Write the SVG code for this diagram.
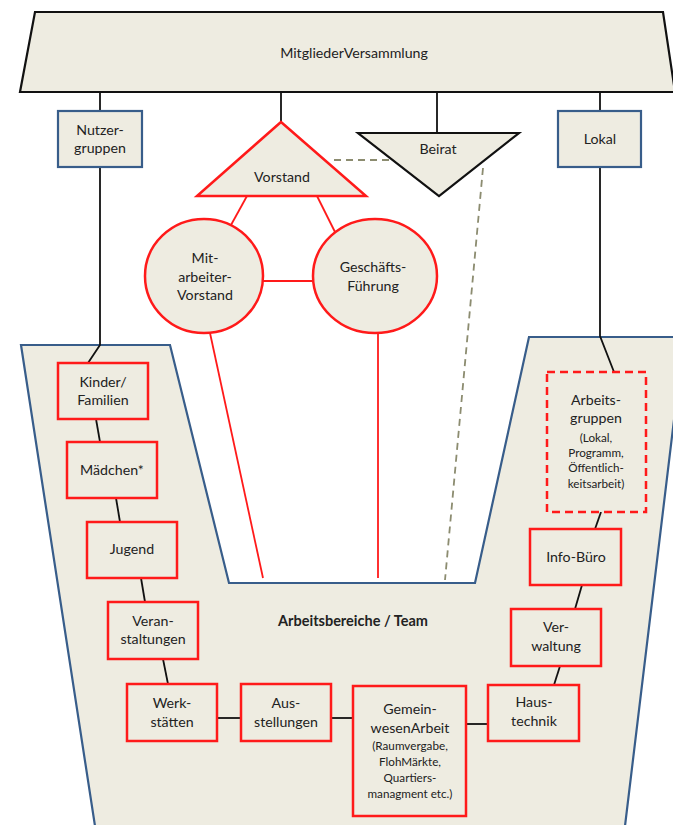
<svg xmlns="http://www.w3.org/2000/svg" width="673" height="825" viewBox="0 0 673 825">
<style>
text{font-family:Lato,"Open Sans","Liberation Sans",sans-serif;font-size:14.2px;fill:#222;text-anchor:middle}
.sm{font-size:11.7px}
.b{font-weight:bold;font-size:14.5px}
.blue{fill:#eeece1;stroke:#385d8a;stroke-width:2.2}
.red{fill:#eeece1;stroke:#ff1a1a;stroke-width:2.5}
.blk{fill:#eeece1;stroke:#111;stroke-width:2.2}
.ln{fill:none;stroke:#111;stroke-width:1.8}
.rl{fill:none;stroke:#ff1a1a;stroke-width:1.8}
.dl{fill:none;stroke:#8c8c70;stroke-width:1.8;stroke-dasharray:7,5}
</style>
<rect width="673" height="825" fill="#fff"/>
<g id="arbeitsbereiche">
<polygon class="blue" points="21,345 170,345 229,583 475,583 529,337 684,337 625,826 95,826"/>
<text class="b" x="353" y="626">Arbeitsbereiche / Team</text>
</g>
<g id="connectors">
<line class="ln" x1="100" y1="92" x2="100" y2="111"/>
<line class="ln" x1="281" y1="92" x2="281" y2="122"/>
<line class="ln" x1="437" y1="92" x2="437" y2="133"/>
<line class="ln" x1="600" y1="92" x2="600" y2="111"/>
<polyline class="ln" points="100,167 100,345 88,363"/>
<polyline class="ln" points="600,167 600,336 614,372"/>
<line class="ln" x1="96" y1="419" x2="100" y2="442"/>
<line class="ln" x1="116" y1="498" x2="120" y2="522"/>
<line class="ln" x1="141" y1="578" x2="145" y2="602"/>
<line class="ln" x1="163" y1="659" x2="168" y2="684"/>
<line class="ln" x1="217" y1="718" x2="241" y2="718"/>
<line class="ln" x1="331" y1="718" x2="353" y2="718"/>
<line class="ln" x1="466" y1="724" x2="488" y2="724"/>
<line class="ln" x1="554" y1="685" x2="560" y2="666"/>
<line class="ln" x1="575" y1="609" x2="582" y2="585"/>
<line class="ln" x1="595" y1="529" x2="601" y2="512"/>
<line class="rl" x1="247" y1="196" x2="231" y2="225"/>
<line class="rl" x1="317" y1="196" x2="335" y2="232"/>
<line class="rl" x1="263" y1="281" x2="313" y2="281"/>
<line class="rl" x1="210" y1="333" x2="263" y2="578"/>
<line class="rl" x1="378" y1="333" x2="378" y2="578"/>
<line class="dl" x1="334" y1="160" x2="393" y2="160"/>
<line class="dl" x1="483" y1="168" x2="445" y2="580"/>
</g>
<g id="mitgliederversammlung">
<polygon class="blk" points="35,12 663,12 675,92 20,92"/>
<text x="354" y="58">MitgliederVersammlung</text>
</g>
<g id="nutzergruppen">
<rect class="blue" x="58" y="111" width="84" height="56"/>
<text x="100" y="135">Nutzer-</text>
<text x="100" y="153">gruppen</text>
</g>
<g id="lokal">
<rect class="blue" x="558" y="111" width="83" height="56"/>
<text x="600" y="144">Lokal</text>
</g>
<g id="vorstand">
<polygon class="red" points="281,122 366,196 197,196"/>
<text x="282" y="182">Vorstand</text>
</g>
<g id="beirat">
<polygon class="blk" points="358,133 519,133 439,196"/>
<text x="438" y="154">Beirat</text>
</g>
<g id="mitarbeitervorstand">
<ellipse class="red" cx="204" cy="276" rx="59" ry="57"/>
<text x="205" y="263">Mit-</text>
<text x="205" y="282">arbeiter-</text>
<text x="205" y="300">Vorstand</text>
</g>
<g id="geschaeftsfuehrung">
<ellipse class="red" cx="375" cy="276" rx="62" ry="57"/>
<text x="373" y="272">Geschäfts-</text>
<text x="373" y="291">Führung</text>
</g>
<g id="kinder">
<rect class="red" x="58" y="363" width="90" height="56"/>
<text x="103" y="387">Kinder/</text>
<text x="103" y="405">Familien</text>
</g>
<g id="maedchen">
<rect class="red" x="67" y="442" width="90" height="56"/>
<text x="112" y="475">Mädchen*</text>
</g>
<g id="jugend">
<rect class="red" x="87" y="522" width="90" height="56"/>
<text x="132" y="554">Jugend</text>
</g>
<g id="veranstaltungen">
<rect class="red" x="108" y="602" width="90" height="57"/>
<text x="153" y="626">Veran-</text>
<text x="153" y="644">staltungen</text>
</g>
<g id="werkstaetten">
<rect class="red" x="127" y="684" width="90" height="57"/>
<text x="172" y="708">Werk-</text>
<text x="172" y="727">stätten</text>
</g>
<g id="ausstellungen">
<rect class="red" x="241" y="684" width="90" height="57"/>
<text x="286" y="708">Aus-</text>
<text x="286" y="727">stellungen</text>
</g>
<g id="gemeinwesenarbeit">
<rect class="red" x="353" y="686" width="113" height="130"/>
<text x="410" y="714">Gemein-</text>
<text x="410" y="733">wesenArbeit</text>
<text class="sm" x="410" y="750">(Raumvergabe,</text>
<text class="sm" x="410" y="766">FlohMärkte,</text>
<text class="sm" x="410" y="782">Quartiers-</text>
<text class="sm" x="410" y="798">managment etc.)</text>
</g>
<g id="haustechnik">
<rect class="red" x="488" y="685" width="91" height="56"/>
<text x="534" y="707">Haus-</text>
<text x="534" y="726">technik</text>
</g>
<g id="verwaltung">
<rect class="red" x="511" y="609" width="90" height="57"/>
<text x="556" y="632">Ver-</text>
<text x="556" y="651">waltung</text>
</g>
<g id="infobuero">
<rect class="red" x="530" y="529" width="91" height="56"/>
<text x="576" y="562">Info-Büro</text>
</g>
<g id="arbeitsgruppen">
<rect class="red" x="547" y="372" width="99" height="140" stroke-dasharray="8,5"/>
<text x="596" y="405">Arbeits-</text>
<text x="596" y="423">gruppen</text>
<text class="sm" x="596" y="442">(Lokal,</text>
<text class="sm" x="596" y="457">Programm,</text>
<text class="sm" x="596" y="472">Öffentlich-</text>
<text class="sm" x="596" y="488">keitsarbeit)</text>
</g>
</svg>
